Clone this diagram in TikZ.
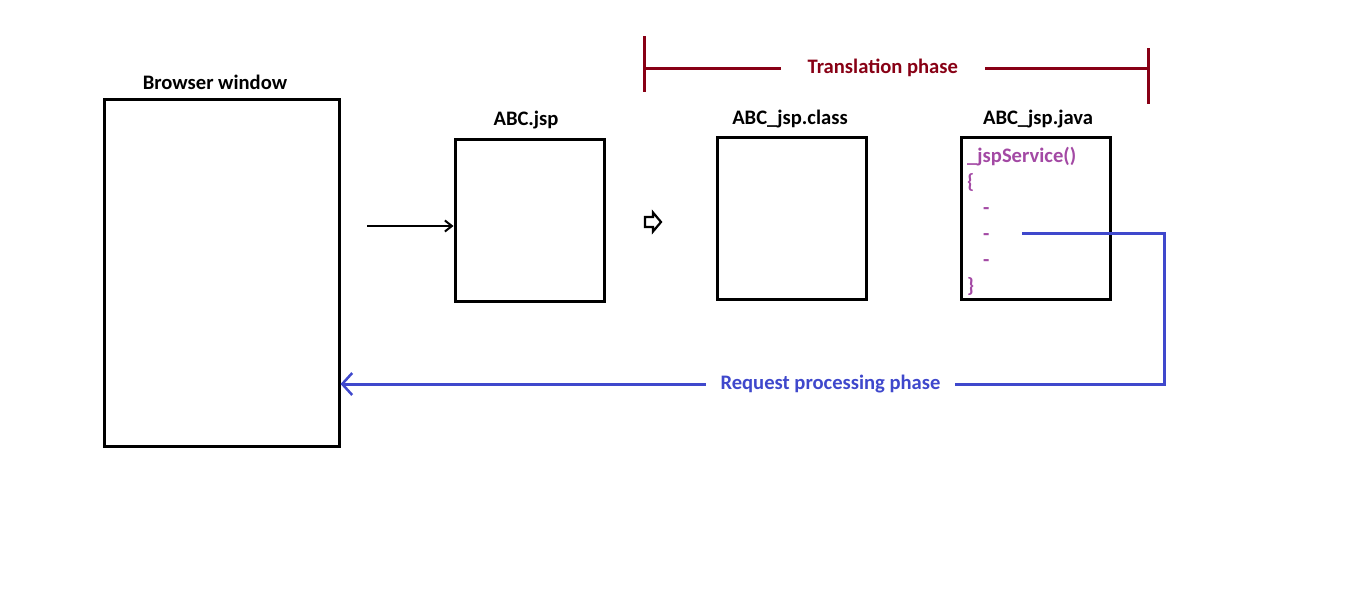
\documentclass[tikz,border=0pt]{standalone}
\usepackage{fontspec}
\setmainfont{Carlito}
\usetikzlibrary{arrows.meta}
\definecolor{phasered}{RGB}{136,0,21}
\definecolor{codepurple}{RGB}{163,73,164}
\definecolor{reqblue}{RGB}{63,72,204}
\begin{document}
\begin{tikzpicture}[x=1pt,y=-1pt,
  lbl/.style={font=\fontsize{20.6}{24}\selectfont\bfseries, inner sep=0pt},
  pane/.style={draw=black, line width=3pt, inner sep=0pt},
  code/.style={lbl, text=codepurple, anchor=base west},
  phase/.style={draw=phasered, line width=3pt},
  req/.style={draw=reqblue, line width=3pt},
  gaplabel/.style={lbl, fill=white, inner ysep=4pt}]
\useasboundingbox (0,0) rectangle (1360,613);

% boxes
\node[pane, minimum width=235pt, minimum height=347pt] (browser) at (221.5,272.5) {};
\node[pane, minimum width=149pt, minimum height=162pt] (jsp) at (529.5,220) {};
\node[pane, minimum width=149pt, minimum height=162pt] (cls) at (791.5,218) {};
\node[pane, minimum width=149pt, minimum height=162pt] (java) at (1035.5,218) {};

% titles
\node[lbl] (tbrowser) at (215,82) {Browser window};
\node[lbl] (tjsp) at (526,120) {ABC.jsp};
\node[lbl] (tcls) at (790,119) {ABC\_jsp.class};
\node[lbl] (tjava) at (1038,119) {ABC\_jsp.java};

% service method listing
\node[code] (c1) at (967,162) {\_jspService()};
\node[code] (c2) at (967,188) {\{};
\node[code] (c3) at (983,214) {-};
\node[code] (c4) at (983,240) {-};
\node[code] (c5) at (983,266) {-};
\node[code] (c6) at (967,292) {\}};

% request arrow into the jsp
\coordinate (reqstart) at (367,226);
\draw[line width=2pt, -{Straight Barb[length=7pt,width=11pt,line width=2pt]}] (reqstart) -- (jsp.west |- reqstart);

% hollow step arrow
\draw[line width=2.2pt, line join=miter] (645,217) -- (653,217) -- (653,212.5) -- (661,222) -- (653,231.5) -- (653,227) -- (645,227) -- cycle;

% translation phase bracket
\coordinate (tl) at (644,68);
\coordinate (tr) at (1150,68);
\draw[phase] (644,36) -- (644,92);
\draw[phase] (1148,48) -- (1148,104);
\draw[phase] (tl) -- node[gaplabel, pos=0.472, text=phasered, inner xsep=27pt] (tphase) {Translation phase} (tr);

% request processing return path
\coordinate (hook) at (1022,233);
\draw[req, -{Straight Barb[length=10pt,width=22pt,line width=2.5pt]}] (hook) -- (1164,233) -- (1164,384)
  -- node[gaplabel, pos=0.405, text=reqblue, inner xsep=15pt] (treq) {Request processing phase} (browser.east |- 0,384);
\end{tikzpicture}
\end{document}
